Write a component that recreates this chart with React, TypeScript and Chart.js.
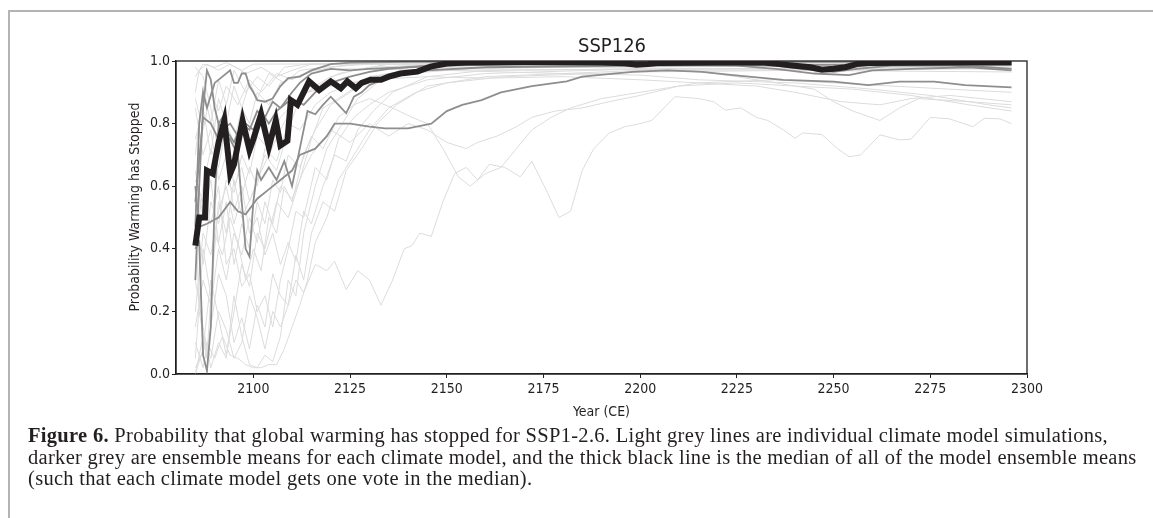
import React, { useEffect, useRef } from 'react';
import { Chart, registerables } from 'chart.js';
Chart.register(...registerables);

const TITLE = 'SSP126';
const X_LABEL = 'Year (CE)';
const Y_LABEL = 'Probability Warming has Stopped';
const X_TICKS = [2100, 2125, 2150, 2175, 2200, 2225, 2250, 2275, 2300];
const Y_TICKS = [0, 0.2, 0.4, 0.6, 0.8, 1.0];

type P = [number, number];

// thick black: median of model ensemble means
const median: P[] = [[2085,0.41],[2086,0.50],[2087.5,0.50],[2088,0.65],[2089.5,0.64],[2091,0.74],[2092.5,0.81],[2094,0.64],[2095,0.67],[2097.2,0.81],[2099,0.715],[2100,0.75],[2102,0.83],[2104,0.725],[2105.8,0.81],[2107,0.73],[2108.8,0.745],[2109.7,0.875],[2111.4,0.86],[2113,0.90],[2114.4,0.935],[2117,0.907],[2120,0.935],[2122.6,0.913],[2124.3,0.935],[2126.5,0.913],[2128,0.93],[2130.3,0.94],[2133,0.94],[2135,0.95],[2138,0.96],[2142.4,0.966],[2145.8,0.982],[2150,0.992],[2155,0.995],[2170,0.996],[2190,0.995],[2196,0.993],[2199,0.988],[2202,0.99],[2205,0.994],[2220,0.995],[2232,0.995],[2236,0.99],[2240,0.985],[2244,0.98],[2247,0.972],[2250,0.975],[2253,0.98],[2256,0.99],[2260,0.994],[2280,0.995],[2296,0.995]];

// darker grey: ensemble means per climate model
const modelMean1: P[] = [[2085,0.47],[2086,0.80],[2087,0.90],[2088,0.85],[2090,0.93],[2092,0.95],[2094,0.97],[2095,0.93],[2096,0.93],[2097,0.96],[2098,0.96],[2099,0.92],[2100,0.90],[2101,0.875],[2103,0.87],[2105,0.88],[2107,0.92],[2109,0.945],[2112,0.95],[2115,0.97],[2120,0.99],[2125,0.995],[2140,0.997],[2296,0.997]];
const modelMean2: P[] = [[2085,0.40],[2086,0.42],[2087,0.06],[2088,0.01],[2089,0.15],[2090,0.55],[2091,0.80],[2092,0.78],[2094,0.80],[2096,0.76],[2098,0.80],[2100,0.78],[2102,0.84],[2104,0.80],[2106,0.84],[2108,0.86],[2110,0.88],[2113,0.86],[2116,0.90],[2120,0.93],[2125,0.95],[2130,0.965],[2135,0.975],[2145,0.985],[2160,0.99],[2200,0.99],[2220,0.99],[2235,0.985],[2245,0.97],[2250,0.965],[2256,0.975],[2265,0.985],[2280,0.985],[2290,0.98],[2296,0.975]];
const modelMean3: P[] = [[2085,0.30],[2086,0.60],[2087,0.85],[2088,0.97],[2089,0.94],[2090,0.85],[2091,0.80],[2092,0.82],[2093,0.76],[2094,0.75],[2096,0.70],[2097,0.55],[2098,0.40],[2099,0.375],[2100,0.55],[2101,0.65],[2102,0.62],[2104,0.66],[2106,0.62],[2108,0.68],[2110,0.60],[2112,0.72],[2114,0.84],[2116,0.83],[2118,0.86],[2120,0.886],[2122,0.86],[2124,0.833],[2126,0.886],[2128,0.90],[2130,0.923],[2135,0.95],[2145,0.97],[2160,0.98],[2200,0.985],[2296,0.99]];
const modelMean4: P[] = [[2085,0.60],[2086,0.47],[2088,0.48],[2091,0.50],[2094,0.55],[2096,0.52],[2098,0.51],[2101,0.56],[2104,0.59],[2107,0.62],[2110,0.65],[2112,0.70],[2116,0.72],[2119,0.76],[2121,0.80],[2125,0.80],[2130,0.79],[2134,0.785],[2140,0.785],[2146,0.80],[2150,0.84],[2154,0.86],[2159,0.875],[2164,0.90],[2172,0.92],[2181,0.935],[2185,0.95],[2198,0.965],[2207,0.97],[2216,0.965],[2224,0.955],[2237,0.94],[2250,0.934],[2259,0.923],[2267,0.934],[2276,0.934],[2284,0.923],[2296,0.916]];
const modelMean5: P[] = [[2085,0.55],[2087,0.82],[2089,0.80],[2091,0.75],[2093,0.78],[2095,0.74],[2097,0.80],[2099,0.78],[2101,0.84],[2103,0.82],[2105,0.87],[2107,0.85],[2110,0.90],[2112,0.93],[2115,0.96],[2120,0.975],[2125,0.97],[2130,0.975],[2140,0.98],[2150,0.985],[2170,0.99],[2200,0.99],[2215,0.987],[2225,0.985],[2235,0.975],[2245,0.96],[2254,0.955],[2260,0.97],[2270,0.975],[2285,0.98],[2296,0.97]];

// light grey: individual simulations
const run1: P[] = [[2085,0.98],[2087,0.95],[2089,0.85],[2091,0.70],[2093,0.78],[2095,0.60],[2097,0.66],[2099,0.55],[2101,0.62],[2104,0.70],[2107,0.78],[2110,0.85],[2114,0.90],[2118,0.93],[2122,0.96],[2130,0.98],[2150,0.99],[2200,0.995],[2296,0.99]];
const run2: P[] = [[2085,0.90],[2086,0.97],[2088,0.99],[2091,0.97],[2094,0.99],[2098,0.96],[2102,0.98],[2106,0.95],[2110,0.97],[2115,0.99],[2130,0.995],[2296,0.995]];
const run3: P[] = [[2085,0.05],[2087,0.40],[2089,0.25],[2091,0.55],[2093,0.45],[2095,0.62],[2097,0.50],[2100,0.58],[2103,0.70],[2106,0.65],[2109,0.78],[2112,0.88],[2116,0.92],[2120,0.95],[2126,0.97],[2135,0.99],[2296,0.99]];
const run4: P[] = [[2085,0.00],[2087,0.08],[2089,0.30],[2091,0.18],[2093,0.06],[2095,0.20],[2097,0.35],[2099,0.28],[2101,0.45],[2103,0.40],[2106,0.55],[2109,0.50],[2112,0.62],[2115,0.75],[2118,0.85],[2122,0.88],[2128,0.93],[2135,0.96],[2150,0.98],[2296,0.985]];
const run5: P[] = [[2085,0.02],[2088,0.10],[2090,0.05],[2092,0.12],[2094,0.06],[2096,0.05],[2098,0.03],[2100,0.02],[2102,0.02],[2104,0.03],[2106,0.03],[2108,0.08],[2110,0.15],[2112,0.22],[2114,0.30],[2116,0.42],[2119,0.50],[2122,0.62],[2126,0.70],[2130,0.78],[2135,0.85],[2142,0.90],[2150,0.93],[2165,0.95],[2200,0.965],[2240,0.97],[2296,0.965]];
const run6: P[] = [[2085,0.30],[2087,0.15],[2089,0.02],[2091,0.10],[2093,0.05],[2095,0.25],[2097,0.12],[2099,0.03],[2101,0.02],[2103,0.06],[2105,0.04],[2107,0.12],[2109,0.30],[2111,0.25],[2113,0.45],[2116,0.60],[2119,0.72],[2123,0.80],[2127,0.88],[2132,0.93],[2140,0.96],[2160,0.98],[2296,0.985]];
const run7: P[] = [[2085,0.55],[2086,0.20],[2088,0.05],[2090,0.45],[2092,0.38],[2094,0.50],[2096,0.42],[2098,0.30],[2100,0.40],[2102,0.33],[2104,0.50],[2106,0.45],[2108,0.60],[2110,0.55],[2113,0.70],[2116,0.78],[2120,0.86],[2125,0.90],[2130,0.95],[2140,0.97],[2296,0.98]];
const run8: P[] = [[2085,0.75],[2087,0.85],[2089,0.70],[2091,0.88],[2093,0.80],[2095,0.92],[2097,0.85],[2099,0.93],[2101,0.88],[2104,0.96],[2108,0.93],[2112,0.97],[2118,0.98],[2130,0.99],[2296,0.995]];
const run9: P[] = [[2085,0.62],[2087,0.55],[2089,0.48],[2091,0.60],[2093,0.35],[2095,0.40],[2097,0.28],[2099,0.32],[2101,0.20],[2103,0.25],[2105,0.15],[2107,0.30],[2109,0.40],[2111,0.52],[2113,0.50],[2116,0.66],[2119,0.62],[2122,0.75],[2126,0.82],[2130,0.86],[2135,0.90],[2145,0.94],[2160,0.96],[2200,0.975],[2296,0.98]];
const run10: P[] = [[2085,0.85],[2087,0.70],[2089,0.78],[2091,0.62],[2093,0.70],[2095,0.52],[2097,0.60],[2099,0.45],[2101,0.50],[2103,0.38],[2105,0.45],[2107,0.35],[2109,0.42],[2111,0.36],[2113,0.52],[2115,0.48],[2118,0.60],[2121,0.70],[2124,0.68],[2127,0.78],[2131,0.84],[2136,0.90],[2145,0.95],[2160,0.97],[2296,0.98]];
const run11: P[] = [[2085,0.40],[2087,0.60],[2089,0.72],[2091,0.66],[2093,0.80],[2095,0.74],[2097,0.85],[2099,0.80],[2101,0.90],[2104,0.86],[2107,0.93],[2111,0.95],[2116,0.97],[2125,0.99],[2296,0.99]];
const run12: P[] = [[2085,0.10],[2087,0.02],[2089,0.15],[2091,0.32],[2093,0.25],[2095,0.10],[2097,0.18],[2099,0.08],[2101,0.22],[2103,0.15],[2105,0.32],[2107,0.25],[2109,0.22],[2111,0.38],[2113,0.30],[2115,0.45],[2118,0.55],[2121,0.52],[2124,0.65],[2128,0.72],[2132,0.80],[2137,0.86],[2145,0.92],[2160,0.95],[2200,0.97],[2296,0.975]];
const run13: P[] = [[2085,0.95],[2087,0.99],[2090,0.98],[2093,0.995],[2097,0.97],[2100,0.99],[2296,0.997]];
const run14: P[] = [[2085,0.70],[2087,0.92],[2089,0.80],[2091,0.94],[2093,0.86],[2095,0.97],[2098,0.90],[2101,0.95],[2104,0.92],[2108,0.98],[2114,0.99],[2296,0.99]];
const run15: P[] = [[2085,0.00],[2087,0.12],[2089,0.05],[2091,0.20],[2093,0.14],[2095,0.05],[2097,0.10],[2099,0.25],[2101,0.18],[2103,0.08],[2105,0.20],[2107,0.15],[2109,0.22],[2111,0.30],[2113,0.26],[2116,0.35],[2119,0.33],[2121,0.36],[2124,0.27],[2127,0.33],[2130,0.30],[2133,0.22],[2136,0.30],[2139,0.40],[2141,0.41],[2143,0.45],[2146,0.44],[2149,0.55],[2152,0.64],[2155,0.66],[2158,0.62],[2161,0.67],[2165,0.66],[2169,0.63],[2172,0.68],[2176,0.58],[2179,0.50],[2182,0.52],[2185,0.65],[2188,0.72],[2192,0.77],[2196,0.79],[2200,0.80],[2203,0.81],[2209,0.886],[2215,0.88],[2219,0.87],[2222,0.843],[2226,0.85],[2230,0.82],[2233,0.81],[2237,0.78],[2240,0.753],[2242,0.77],[2247,0.765],[2251,0.72],[2254,0.694],[2257,0.70],[2262,0.764],[2267,0.748],[2270,0.75],[2275,0.82],[2280,0.815],[2286,0.79],[2289,0.817],[2293,0.815],[2296,0.80]];
const run16: P[] = [[2085,0.50],[2087,0.35],[2089,0.55],[2091,0.48],[2093,0.62],[2095,0.58],[2097,0.70],[2099,0.64],[2101,0.76],[2104,0.72],[2107,0.82],[2110,0.86],[2114,0.90],[2120,0.92],[2130,0.94],[2145,0.95],[2160,0.945],[2180,0.95],[2200,0.94],[2215,0.93],[2230,0.92],[2240,0.90],[2252,0.87],[2262,0.86],[2270,0.88],[2280,0.89],[2296,0.87]];
const run17: P[] = [[2085,0.88],[2087,0.78],[2089,0.90],[2091,0.84],[2093,0.92],[2096,0.86],[2099,0.94],[2102,0.90],[2106,0.96],[2110,0.94],[2115,0.97],[2125,0.975],[2150,0.97],[2180,0.96],[2200,0.955],[2215,0.94],[2240,0.93],[2260,0.91],[2275,0.89],[2290,0.86],[2296,0.85]];
const run18: P[] = [[2085,0.20],[2087,0.45],[2089,0.38],[2091,0.52],[2093,0.60],[2095,0.48],[2097,0.57],[2099,0.66],[2101,0.60],[2103,0.72],[2106,0.68],[2109,0.80],[2112,0.78],[2116,0.86],[2120,0.90],[2126,0.93],[2135,0.96],[2150,0.975],[2180,0.98],[2210,0.975],[2225,0.95],[2235,0.93],[2245,0.91],[2250,0.87],[2255,0.84],[2262,0.81],[2267,0.85],[2272,0.88],[2285,0.87],[2296,0.86]];
const run19: P[] = [[2085,0.15],[2087,0.30],[2089,0.22],[2091,0.40],[2093,0.30],[2095,0.45],[2097,0.38],[2099,0.50],[2101,0.42],[2103,0.55],[2105,0.48],[2107,0.60],[2110,0.56],[2113,0.65],[2115,0.70],[2120,0.78],[2125,0.74],[2130,0.80],[2135,0.76],[2140,0.80],[2145,0.78],[2150,0.74],[2155,0.72],[2158,0.74],[2163,0.76],[2168,0.79],[2172,0.82],[2178,0.84],[2185,0.85],[2192,0.87],[2200,0.89],[2210,0.92],[2225,0.93],[2240,0.92],[2255,0.91],[2270,0.89],[2285,0.86],[2296,0.84]];
const run20: P[] = [[2085,0.65],[2087,0.50],[2089,0.62],[2091,0.42],[2093,0.55],[2095,0.35],[2097,0.48],[2099,0.40],[2101,0.55],[2103,0.48],[2105,0.62],[2107,0.58],[2109,0.70],[2112,0.66],[2115,0.76],[2118,0.72],[2122,0.82],[2126,0.86],[2130,0.88],[2136,0.85],[2141,0.82],[2145,0.80],[2149,0.72],[2153,0.63],[2156,0.60],[2160,0.64],[2164,0.66],[2168,0.72],[2172,0.78],[2177,0.82],[2182,0.85],[2190,0.88],[2200,0.90],[2215,0.93],[2235,0.94],[2250,0.93],[2265,0.92],[2280,0.91],[2296,0.90]];

const MODEL_MEANS = [modelMean1, modelMean2, modelMean3, modelMean4, modelMean5];
const RUNS = [run1, run2, run3, run4, run5, run6, run7, run8, run9, run10, run11, run12, run13, run14, run15, run16, run17, run18, run19, run20];

const SANS = '"Liberation Sans Narrow", "DejaVu Sans Condensed", "Open Sans", sans-serif';
const INK = '#231f20';

const boxAndTitles = {
  id: 'boxAndTitles',
  afterDatasetsDraw(chart: any) {
    const { ctx, chartArea: a } = chart;
    ctx.save();
    ctx.strokeStyle = INK;
    ctx.lineWidth = 1.3;
    ctx.strokeRect(a.left, a.top, a.right - a.left, a.bottom - a.top);
    ctx.fillStyle = INK;
    ctx.textAlign = 'center';
    ctx.textBaseline = 'middle';
    ctx.font = `20px ${SANS}`;
    ctx.fillText(TITLE, 612, 47);
    ctx.translate(135, 207);
    ctx.rotate(-Math.PI / 2);
    ctx.font = `14px ${SANS}`;
    ctx.fillText(Y_LABEL, 0, 0);
    ctx.restore();
  },
};

const toXY = (arr: P[]) => arr.map(([x, y]) => ({ x, y }));

export default function App() {
  const ref = useRef<HTMLCanvasElement>(null);
  useEffect(() => {
    if (!ref.current) return;
    const datasets: any[] = [];
    RUNS.forEach((r, i) => datasets.push({ label: `run ${i + 1}`, data: toXY(r), borderColor: '#dcdcdc', borderWidth: 1, pointRadius: 0, order: 3 }));
    MODEL_MEANS.forEach((m, i) => datasets.push({ label: `model ${i + 1}`, data: toXY(m), borderColor: '#8e8e8e', borderWidth: 1.8, pointRadius: 0, order: 2 }));
    datasets.push({ label: 'median', data: toXY(median), borderColor: INK, borderWidth: 6, pointRadius: 0, order: 1 });
    const chart = new Chart(ref.current, {
      type: 'line',
      data: { datasets },
      plugins: [boxAndTitles],
      options: {
        animation: false,
        responsive: false,
        maintainAspectRatio: false,
        layout: { padding: { left: 0, right: 126, top: 61, bottom: 0 } },
        plugins: { legend: { display: false }, tooltip: { enabled: false }, title: { display: false } },
        elements: { line: { tension: 0 } },
        scales: {
          x: {
            type: 'linear', min: 2080, max: 2300,
            afterBuildTicks: (s: any) => { s.ticks = X_TICKS.map((v) => ({ value: v })); },
            afterFit: (s: any) => { s.height = 56; },
            grid: { display: true, drawOnChartArea: false, drawTicks: true, tickLength: 4, color: INK, lineWidth: 1 },
            border: { display: true, color: INK, width: 1.3 },
            ticks: { font: { family: SANS, size: 14 }, color: INK, padding: 3, maxRotation: 0, autoSkip: false, callback: (v: any) => String(v) },
            title: { display: true, text: X_LABEL, font: { family: SANS, size: 14 }, color: INK, padding: { top: 0, bottom: 9 } },
          },
          y: {
            type: 'linear', min: 0, max: 1,
            afterBuildTicks: (s: any) => { s.ticks = Y_TICKS.map((v) => ({ value: v })); },
            afterFit: (s: any) => { s.width = 176; },
            grid: { display: true, drawOnChartArea: false, drawTicks: true, tickLength: 4, color: INK, lineWidth: 1 },
            border: { display: true, color: INK, width: 1.3 },
            ticks: { font: { family: SANS, size: 14 }, color: INK, padding: 2, callback: (v: any) => Number(v).toFixed(1) },
            title: { display: false },
          },
        },
      } as any,
    });
    return () => chart.destroy();
  }, []);

  return (
    <div style={{ position: 'fixed', left: 0, top: 0, width: 1153, height: 518, background: '#fff', overflow: 'hidden' }}>
      <div style={{ position: 'absolute', left: 8, top: 10, right: -4, bottom: -4, borderTop: '2px solid #b4b4b4', borderLeft: '2px solid #b4b4b4' }} />
      <canvas ref={ref} width={1153} height={430} style={{ position: 'absolute', left: 0, top: 0, width: 1153, height: 430 }} />
      <div style={{ position: 'absolute', left: 28, top: 425, fontFamily: '"Liberation Serif", "Times New Roman", serif', fontSize: 20.5, letterSpacing: '0.3px', lineHeight: '21.5px', color: INK, whiteSpace: 'nowrap' }}>
        <b>Figure 6.</b> Probability that global warming has stopped for SSP1-2.6. Light grey lines are individual climate model simulations,<br />
        darker grey are ensemble means for each climate model, and the thick black line is the median of all of the model ensemble means<br />
        (such that each climate model gets one vote in the median).
      </div>
    </div>
  );
}
